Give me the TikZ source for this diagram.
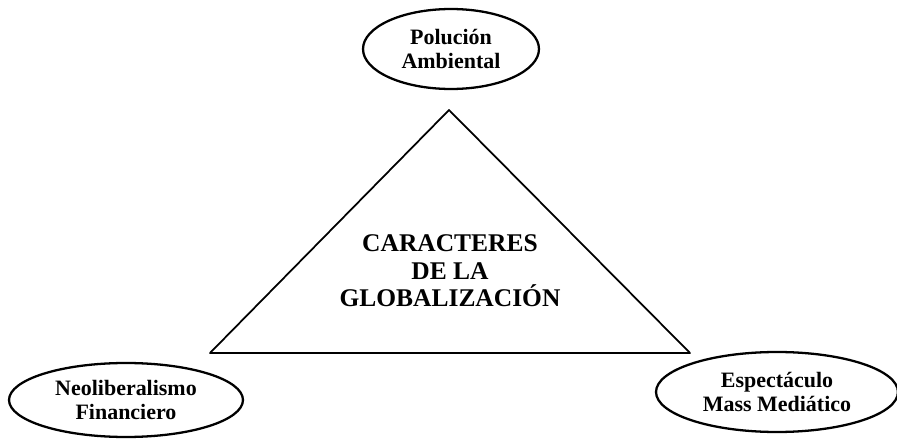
\documentclass[tikz,border=0pt]{standalone}
\usepackage{fontspec}
\setmainfont{Liberation Serif}
\usetikzlibrary{%
  shapes.geometric,% wg. ellipse
  positioning%
}

\begin{document}
\begin{tikzpicture}[
  x=0.02cm, y=-0.02cm, line cap=round, line join=round,
  tema/.style={ellipse, draw=black, line width=1.3pt, inner sep=0pt, align=center,
    font=\fontsize{12.5}{13.8}\selectfont\bfseries},
  centro/.style={align=center, inner sep=0pt,
    font=\fontsize{14.5}{15.6}\selectfont\bfseries}
]
\useasboundingbox (0,0) rectangle (897,439);

% triangulo
\coordinate (apex) at (449,110);
\coordinate (baseL) at (210,353);
\coordinate (baseR) at (690,353);
\draw[line width=1pt] (apex) -- (baseR) -- (baseL) -- cycle;

\node[centro] (caracteres) at (450,271) {CARACTERES\\DE LA\\GLOBALIZACIÓN};

% esquinas
\node[tema, minimum width=3.52cm, minimum height=1.6cm] (polucion) at (451,49)
  {Polución\\Ambiental};
\node[tema, minimum width=4.68cm, minimum height=1.48cm] (neolib) at (126,400)
  {Neoliberalismo\\Financiero};
\node[tema, minimum width=4.84cm, minimum height=1.6cm] (espectaculo) at (777,392)
  {Espectáculo\\Mass Mediático};
\end{tikzpicture}
\end{document}
